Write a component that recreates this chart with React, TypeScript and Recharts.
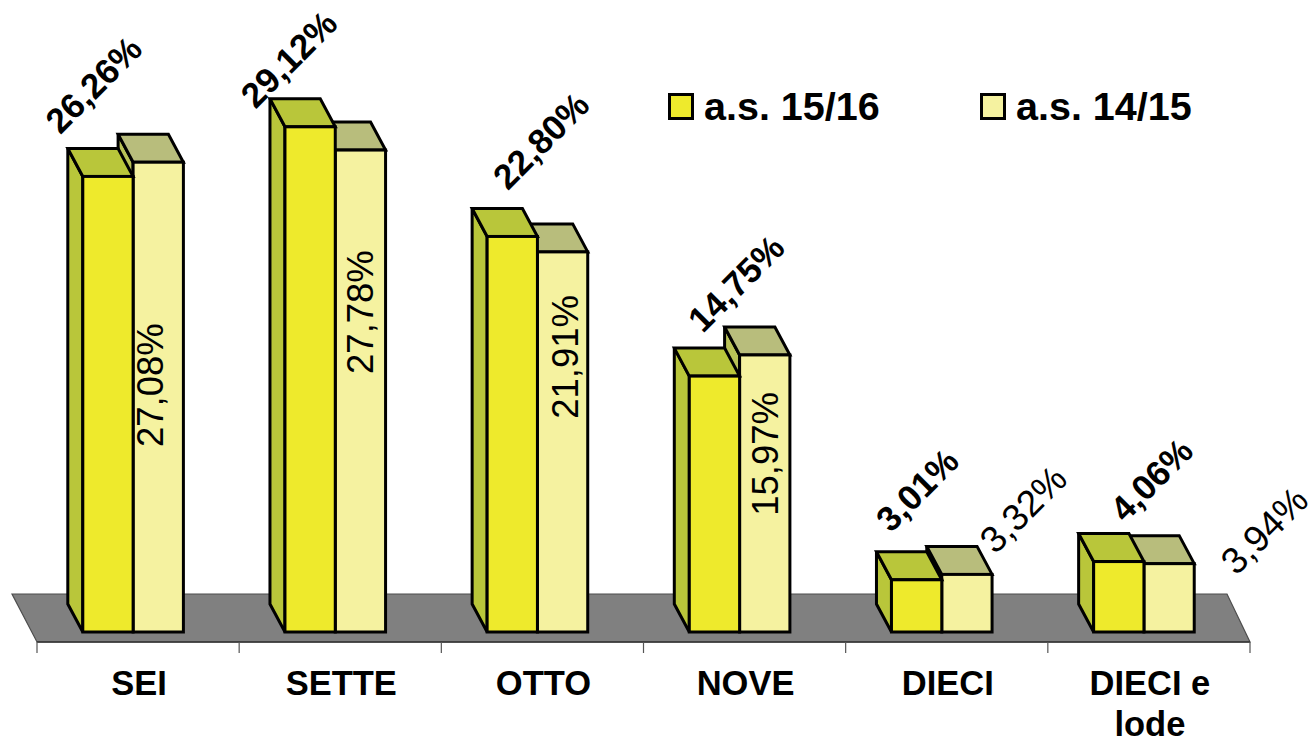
import { Bar, BarChart, LabelList, Legend, XAxis, YAxis, usePlotArea } from 'recharts';

const categories = ['SEI', 'SETTE', 'OTTO', 'NOVE', 'DIECI', 'DIECI e\nlode'];
const values1516 = [26.26, 29.12, 22.8, 14.75, 3.01, 4.06];
const values1415 = [27.08, 27.78, 21.91, 15.97, 3.32, 3.94];

const data = categories.map((name, i) => ({
  name,
  cur: values1516[i],
  prev: values1415[i],
}));

// label nudges from the top centre of each front face
const curLabelNudge = [[-15, -92], [-22, -68], [28, -96], [21, -93], [0, -90], [32, -82]];
const prevLabelNudge = [[-8, 223], [0, 162], [2, 105], [0, 99], [56, -65], [95, -33]];

const FONT = '"Liberation Sans", Arial, sans-serif';
const DEPTH_X = 15;
const DEPTH_Y = 28;
const BAR_SHIFT = -5.2;

const fmt = (v: number) => `${v.toFixed(2).replace('.', ',')}%`;

function Box3D({ x, y, width: w, height: h, front, top, side }: any) {
  const bx = x - DEPTH_X;
  const by = y - DEPTH_Y;
  const line = { stroke: '#000', strokeWidth: 3, strokeLinejoin: 'miter' as const };
  return (
    <g>
      <polygon points={`${bx},${by} ${x},${y} ${x},${y + h} ${bx},${y + h - DEPTH_Y}`} fill={side} {...line} />
      <polygon points={`${bx},${by} ${bx + w},${by} ${x + w},${y} ${x},${y}`} fill={top} {...line} />
      <rect x={x} y={y} width={w} height={h} fill={front} {...line} />
    </g>
  );
}

function Floor() {
  const plot = usePlotArea();
  if (!plot) return null;
  const left = plot.x;
  const right = plot.x + plot.width;
  const front = plot.y + plot.height + 10;
  const back = front - 48;
  return (
    <g>
      <polygon
        points={`${left - 25},${back} ${right - 23},${back} ${right},${front} ${left},${front}`}
        fill="#808080"
        stroke="#4d4d4d"
        strokeWidth={1.2}
      />
      <line x1={left} y1={front} x2={right} y2={front} stroke="#333" strokeWidth={1.5} />
    </g>
  );
}

function CategoryTick({ x, y, payload, index }: any) {
  const band = 202.17;
  const lines = String(payload.value).split('\n');
  const left = x - band / 2;
  const tickTop = y + 2;
  return (
    <g>
      <line x1={left} y1={tickTop} x2={left} y2={tickTop + 11} stroke="#555" strokeWidth={1.2} />
      {index === categories.length - 1 && (
        <line x1={left + band} y1={tickTop} x2={left + band} y2={tickTop + 11} stroke="#555" strokeWidth={1.2} />
      )}
      {lines.map((t: string, i: number) => (
        <text
          key={t}
          x={x + 1}
          y={y + 55 + i * 41}
          textAnchor="middle"
          fontFamily={FONT}
          fontWeight="bold"
          fontSize={34.5}
          fill="#000"
        >
          {t}
        </text>
      ))}
    </g>
  );
}

function CurLabel({ x, y, width, value, index }: any) {
  // the front face sits one slot left of where the library put this series
  const cx = x - width - 4.7 + width / 2 + curLabelNudge[index][0];
  const cy = y + curLabelNudge[index][1];
  return (
    <text
      x={cx}
      y={cy}
      transform={`rotate(-45 ${cx} ${cy})`}
      textAnchor="middle"
      dominantBaseline="central"
      fontFamily={FONT}
      fontWeight="bold"
      fontSize={35}
      fill="#000"
    >
      {fmt(value)}
    </text>
  );
}

function PrevLabel({ x, y, width, value, index }: any) {
  const cx = x + width - 4.7 + width / 2 + prevLabelNudge[index][0];
  const cy = y + prevLabelNudge[index][1];
  const upright = index < 4;
  return (
    <text
      x={cx}
      y={cy}
      transform={`rotate(${upright ? -90 : -45} ${cx} ${cy})`}
      textAnchor="middle"
      dominantBaseline="central"
      fontFamily={FONT}
      fontSize={upright ? 36.5 : 37}
      fill="#000"
    >
      {fmt(value)}
    </text>
  );
}

function LegendRow({ payload }: any) {
  const items = [...(payload ?? [])].reverse();
  return (
    <div style={{ display: 'flex', fontFamily: FONT, fontWeight: 'bold', fontSize: 39.5, lineHeight: '44px' }}>
      {items.map((it: any) => (
        <div key={it.value} style={{ display: 'flex', alignItems: 'center', width: 312 }}>
          <span
            style={{
              display: 'inline-block',
              boxSizing: 'border-box',
              width: 26,
              height: 27,
              background: it.color,
              border: '3px solid #000',
              marginRight: 10,
            }}
          />
          {it.value}
        </div>
      ))}
    </div>
  );
}

export default function App() {
  return (
    <div style={{ position: 'absolute', left: 0, top: 0, width: 1315, height: 743, background: '#fff' }}>
      <BarChart
        width={1315}
        height={743}
        data={data}
        margin={{ top: 0, right: 65, bottom: 0, left: 37 }}
        barGap={0}
        barSize={50.3}
      >
        <Floor />
        <XAxis dataKey="name" height={111} interval={0} axisLine={false} tickLine={false} tick={<CategoryTick />} />
        <YAxis hide domain={[0, 36.43]} />
        <Legend
          layout="vertical"
          align="center"
          verticalAlign="middle"
          content={<LegendRow />}
          wrapperStyle={{ position: 'absolute', left: 668, top: 84, width: 640 }}
        />
        {/* a.s. 14/15 goes first so the darker boxes paint over it; the shapes swap the two slots back */}
        <Bar
          dataKey="prev"
          name="a.s. 14/15"
          fill="#F5F2A0"
          isAnimationActive={false}
          shape={(p: any) => <Box3D {...p} x={p.x + p.width + BAR_SHIFT} front="#F5F2A0" top="#B8BD7C" side="#B9C257" />}
        >
          <LabelList dataKey="prev" content={<PrevLabel />} />
        </Bar>
        <Bar
          dataKey="cur"
          name="a.s. 15/16"
          fill="#EEEA2C"
          isAnimationActive={false}
          shape={(p: any) => <Box3D {...p} x={p.x - p.width + BAR_SHIFT} front="#EEEA2C" top="#B9C63A" side="#B9C63A" />}
        >
          <LabelList dataKey="cur" content={<CurLabel />} />
        </Bar>
      </BarChart>
    </div>
  );
}
